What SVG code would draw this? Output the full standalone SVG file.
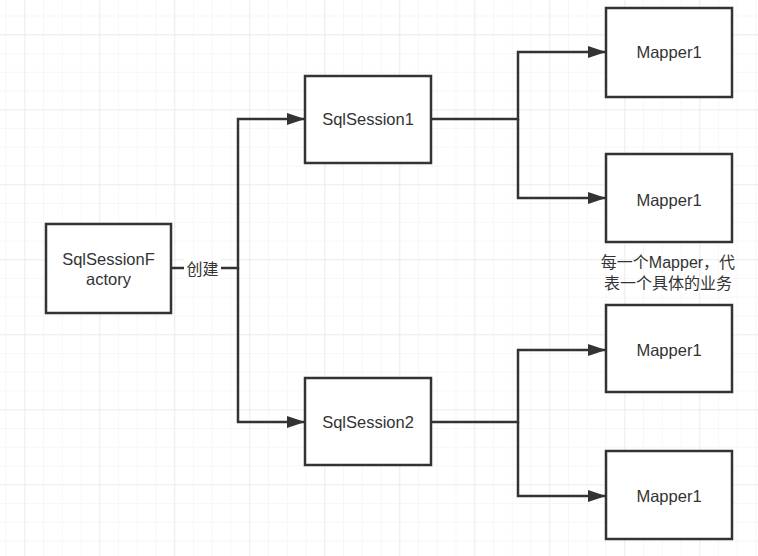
<svg xmlns="http://www.w3.org/2000/svg" width="758" height="556" viewBox="0 0 758 556">
<defs>
<pattern id="minor" x="5.55" y="15.55" width="18.75" height="18.75" patternUnits="userSpaceOnUse">
<path d="M0 0 H18.75 M0 0 V18.75" fill="none" stroke="#f0f0f0" stroke-width="1"/>
</pattern>
<pattern id="major" x="24.3" y="34.3" width="75" height="75" patternUnits="userSpaceOnUse">
<path d="M0 0 H75 M0 0 V75" fill="none" stroke="#e2e2e2" stroke-width="1"/>
</pattern>
<marker id="arr" markerUnits="userSpaceOnUse" markerWidth="20" markerHeight="12" refX="18" refY="6" orient="auto">
<path d="M0 0 L18 6 L0 12 Z" fill="#333333"/>
</marker>
</defs>
<style>
.box{fill:#ffffff;stroke:#333333;stroke-width:2.5}
.lbl{font-family:"Liberation Sans","Noto Sans CJK SC",sans-serif;font-size:16.5px;fill:#333333;text-anchor:middle}
.edge{fill:none;stroke:#333333;stroke-width:2.5}
</style>
<rect width="758" height="556" fill="#ffffff"/>
<rect width="758" height="556" fill="url(#minor)"/>
<rect width="758" height="556" fill="url(#major)"/>
<g id="connectors">
<path class="edge" d="M171 268 H238 V119 H305" marker-end="url(#arr)"/>
<path class="edge" d="M238 268 V422 H305" marker-end="url(#arr)"/>
<path class="edge" d="M431 119 H518 V52 H606" marker-end="url(#arr)"/>
<path class="edge" d="M518 119 V198 H606" marker-end="url(#arr)"/>
<path class="edge" d="M431 422 H518 V350 H606" marker-end="url(#arr)"/>
<path class="edge" d="M518 422 V496 H606" marker-end="url(#arr)"/>
<rect x="184" y="259" width="37" height="20" fill="#ffffff"/>
<text class="lbl" x="202.5" y="275" style="font-size:16px">创建</text>
</g>
<g id="factory">
<rect class="box" x="46" y="224" width="125" height="89"/>
<text class="lbl" x="108.5" y="265">SqlSessionF</text>
<text class="lbl" x="108.5" y="285">actory</text>
</g>
<g id="session1">
<rect class="box" x="305" y="76" width="126" height="87"/>
<text class="lbl" x="368" y="125">SqlSession1</text>
</g>
<g id="session2">
<rect class="box" x="305" y="378" width="126" height="87"/>
<text class="lbl" x="368" y="428">SqlSession2</text>
</g>
<g id="mapper1a">
<rect class="box" x="606" y="8" width="126" height="89"/>
<text class="lbl" x="669" y="58">Mapper1</text>
</g>
<g id="mapper1b">
<rect class="box" x="606" y="154" width="126" height="88"/>
<text class="lbl" x="669" y="206">Mapper1</text>
</g>
<g id="mapper1c">
<rect class="box" x="606" y="305" width="126" height="87"/>
<text class="lbl" x="669" y="356">Mapper1</text>
</g>
<g id="mapper1d">
<rect class="box" x="606" y="451" width="126" height="88"/>
<text class="lbl" x="669" y="502">Mapper1</text>
</g>
<g id="note">
<text class="lbl" x="668" y="268" style="font-size:16px">每一个Mapper，代</text>
<text class="lbl" x="668" y="289" style="font-size:16px">表一个具体的业务</text>
</g>
</svg>
